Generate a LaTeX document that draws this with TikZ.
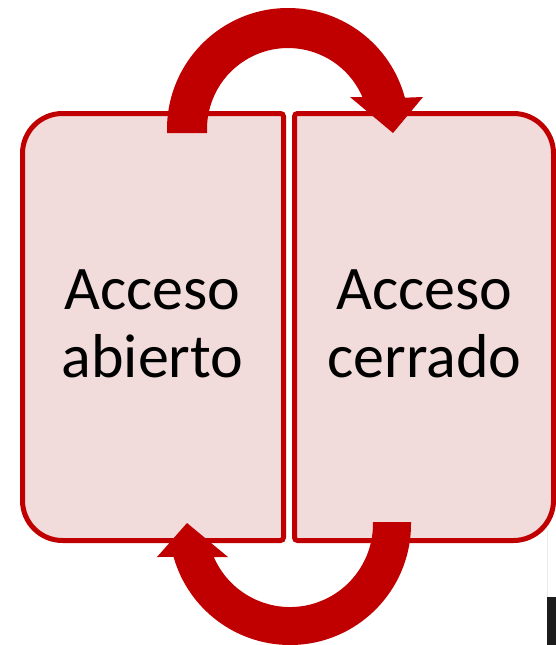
\documentclass[tikz,border=0pt]{standalone}
\usepackage{fontspec}
\setmainfont{Carlito}
\definecolor{arrred}{HTML}{C00000}
\definecolor{boxfill}{HTML}{F2DCDB}
\definecolor{darkbar}{HTML}{1C1C1C}
\tikzset{
  boxst/.style={draw=arrred, fill=boxfill, line width=5pt},
  arrowst/.style={fill=arrred, draw=none},
  labelst/.style={align=center, font=\fontsize{62}{68}\selectfont, text=black, inner sep=0pt}
}
\begin{document}
\begin{tikzpicture}[x=1pt, y=1pt, yscale=-1]
\useasboundingbox (0,0) rectangle (556,645);
% boxes
\path[boxst] (153,113.5) [rounded corners=3pt] -- (283.5,113.5) -- (283.5,540.5) -- (153,540.5)
  [rounded corners=40pt] -- (22.5,540.5) -- (22.5,113.5) -- cycle;
\path[boxst] (424,113.5) [rounded corners=3pt] -- (294.5,113.5) -- (294.5,540.5) -- (424,540.5)
  [rounded corners=40pt] -- (553.5,540.5) -- (553.5,113.5) -- cycle;
% labels
\node[labelst] (open) at (152.5,324) {Acceso\\abierto};
\node[labelst] (closed) at (424.5,324) {Acceso\\cerrado};
% top arrow
\path[arrowst] (207,133) -- (167,133) -- (167,129) arc[start angle=180, end angle=345, radius=121]
  -- (423,97) -- (393,133) -- (350,97) -- (362.4,97)
  arc[start angle=336.7, end angle=180, radius=81] -- cycle;
% bottom arrow
\path[arrowst] (373,522) -- (411,522) -- (411,524) arc[start angle=0, end angle=164.2, radius=121]
  -- (157,557) -- (187,523) -- (228,557) -- (213.8,557)
  arc[start angle=156.6, end angle=0, radius=83] -- cycle;
% edge artefact at bottom right
\draw[black!8, line width=1pt] (547.5,530) -- (547.5,597);
\fill[darkbar] (547,597) rectangle (556,645);
\end{tikzpicture}
\end{document}
